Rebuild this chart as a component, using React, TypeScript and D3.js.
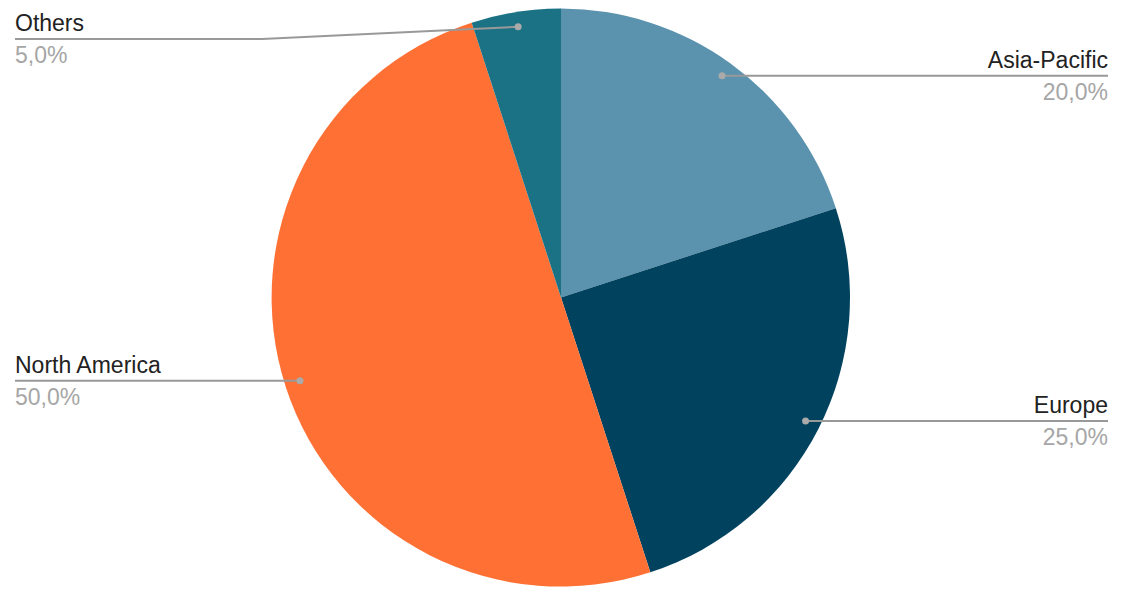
import React from "react";
import * as d3 from "d3";

const categories = ["Asia-Pacific", "Europe", "North America", "Others"];
const values = [20, 25, 50, 5];
const colors = ["#5b92ae", "#01435f", "#ff7034", "#1c7285"];
// angle (degrees, clockwise from 12 o'clock) where each leader line touches its slice
const labelAngles = [36, 116.8, 252.3, 351];

const W = 1125;
const H = 592;
const cx = 561;
const cy = 297.5;
const R = 289;
const dotR = 274;
const leftX = 15;
const rightX = 1108;
const minLabelY = 39;
const font = "Arial, 'Liberation Sans', sans-serif";

export default function App() {
  const pie = d3
    .pie<number>()
    .sort(null)
    .value((d) => d)
    .startAngle(0)
    .endAngle(2 * Math.PI);
  const arcs = pie(values);
  const arc = d3.arc<d3.PieArcDatum<number>>().innerRadius(0).outerRadius(R);
  const total = d3.sum(values);
  const fmt = (v: number) => (v / total * 100).toFixed(1).replace(".", ",") + "%";

  return (
    <svg
      width={W}
      height={H}
      style={{ position: "absolute", left: 0, top: 0, background: "#fff" }}
    >
      <g transform={`translate(${cx},${cy})`}>
        {arcs.map((a, i) => (
          <path key={i} d={arc(a) || ""} fill={colors[i]} />
        ))}
      </g>
      {arcs.map((a, i) => {
        const ang = (labelAngles[i] * Math.PI) / 180;
        const dx = cx + dotR * Math.sin(ang);
        const dy = cy - dotR * Math.cos(ang);
        const right = Math.sin(ang) > 0;
        const ly = Math.max(dy, minLabelY);
        const endX = right ? rightX : leftX;
        let pts: [number, number][];
        if (Math.abs(ly - dy) < 0.5) {
          pts = [
            [dx, dy],
            [endX, ly],
          ];
        } else {
          const elbowX = right ? rightX - 247 : leftX + 247;
          pts = [
            [dx, dy],
            [elbowX, ly],
            [endX, ly],
          ];
        }
        const line = d3.line()(pts) || "";
        const anchor = right ? "end" : "start";
        return (
          <g key={i}>
            <path d={line} fill="none" stroke="#999" strokeWidth={2} />
            <circle cx={dx} cy={dy} r={3.5} fill="#aaa" />
            <text
              x={endX}
              y={ly - 8}
              textAnchor={anchor}
              fontFamily={font}
              fontSize={23}
              fill="#222"
            >
              {categories[i]}
            </text>
            <text
              x={endX}
              y={ly + 24}
              textAnchor={anchor}
              fontFamily={font}
              fontSize={23}
              fill="#a6a6a6"
            >
              {fmt(a.value)}
            </text>
          </g>
        );
      })}
    </svg>
  );
}
